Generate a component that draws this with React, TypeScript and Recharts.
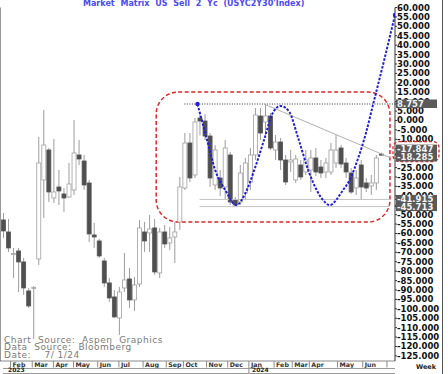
import React from "react";
import {
  ComposedChart,
  Bar,
  Line,
  XAxis,
  YAxis,
  ReferenceLine,
  ReferenceArea
} from "recharts";

// weekly candles, mid-Jan 2023 .. end of Jun 2024
const opens = [
  -52.81, -59.19, -70.87, -69.27, -75.11, -90.5, -88.91, -73.52, -31.58, -15.66,
  -41.14, -35.3, -39.01, -40.61, -36.89, -18.31, -21.5, -33.17, -60.78, -63.96,
  -74.58, -86.26, -93.69, -104.84, -88.91, -84.14, -95.28, -86.79, -59.19, -59.72,
  -57.06, -80.95, -59.19, -65.02, -61.84, -53.88, -35.83, -11.94, -28.93, 1.33,
  -0.27, -8.23, -34.24, -30.52, -35.3, -18.31, -42.2, -43.26, -38.48, -32.64,
  -18.31, 2.39, -0.8, 2.39, -15.66, -11.41, -20.97, -22.03, -31.58, -23.62,
  -27.34, -26.27, -19.91, -24.68, -27.34, -27.34, -22.56, -14.6, -22.56, -27.87,
  -35.83, -23.62, -33.17, -34.77, -33.17, -17.85
];
const highs = [
  -49.1, -52.28, -67.68, -67.68, -72.99, -88.91, -87.85, -8.76, 5.57, -14.6,
  -9.82, -26.27, -35.83, -22.56, 0.27, -10.35, -18.31, -31.58, -54.41, -62.9,
  -72.99, -83.61, -89.97, -88.38, -70.33, -78.3, -83.08, -52.81, -53.88, -50.16,
  -52.28, -57.06, -55.47, -56.53, -53.88, -29.99, -6.64, -6.64, 1.33, 2.92,
  3.45, -6.64, -13.0, -26.27, -10.35, -16.72, -40.61, -23.62, -19.91, -14.6,
  6.64, 6.64, 8.757, 3.98, -7.7, -9.29, -18.31, -15.66, -18.31, -20.97,
  -15.66, -15.66, -14.6, -20.97, -19.91, -11.94, -7.7, -13.0, -19.91, -25.21,
  -26.27, -20.97, -30.52, -28.93, -18.31, -17.0
];
const lows = [
  -62.37, -69.8, -83.61, -91.04, -92.63, -99.53, -116.0, -76.71, -51.75, -43.26,
  -43.79, -44.85, -48.57, -41.14, -39.54, -23.62, -36.89, -64.49, -67.68, -72.99,
  -88.38, -96.34, -104.84, -113.86, -91.04, -99.53, -101.12, -88.38, -69.8, -69.8,
  -82.01, -83.61, -67.68, -68.74, -75.64, -58.12, -36.89, -32.64, -30.52, -8.0,
  -10.35, -35.3, -36.89, -40.08, -42.2, -44.85, -45.71, -44.85, -42.2, -36.89,
  -20.97, -10.35, -7.7, -15.66, -20.97, -26.27, -34.24, -27.34, -33.17, -31.58,
  -28.93, -38.0, -29.46, -30.52, -30.52, -28.93, -25.21, -25.21, -30.52, -39.01,
  -39.54, -41.91, -37.95, -39.54, -36.89, -18.84
];
const closes = [
  -58.65, -67.68, -70.6, -75.11, -88.91, -98.47, -88.6, -22.56, -13.0, -37.95,
  -37.95, -37.42, -41.14, -33.71, -17.25, -20.44, -34.24, -60.25, -61.84, -71.93,
  -86.26, -94.22, -104.3, -91.04, -84.67, -95.28, -87.32, -57.06, -63.96, -57.59,
  -80.42, -59.19, -65.56, -62.37, -59.19, -35.3, -11.94, -30.52, -0.8, -0.27,
  -8.23, -30.52, -15.66, -35.83, -14.6, -43.26, -44.85, -27.87, -22.56, -18.31,
  2.92, -6.64, 2.39, -14.6, -11.41, -20.97, -32.64, -20.97, -20.44, -29.99,
  -20.97, -19.91, -27.34, -27.87, -22.56, -15.66, -15.66, -23.09, -27.34, -37.95,
  -30.52, -35.3, -35.83, -33.17, -19.91, -18.29
];

// hand drawn "W" projection (blue dotted)
const curveX = [38.5, 40.4, 42.0, 44.0, 46.2, 48.0, 50.0, 51.7, 53.4, 55.0, 56.7, 58.4, 60.7, 63.4, 64.7, 67.4, 68.7, 70.4, 71.9, 73.3, 75.5, 77.7];
const curveY = [8.757, -10.4, -26.3, -36.9, -44.9, -38.6, -24.5, -10.4, 3.8, 7.7, 4.7, -8.6, -28.0, -42.2, -44.9, -36.9, -31.6, -19.9, -7.0, 8.0, 31.5, 56.0];

const yTicks = [
  60, 55, 50, 45, 40, 35, 30, 25, 20, 15, 10, 5, 0, -5, -10, -15, -20, -25, -30,
  -35, -40, -45, -50, -55, -60, -65, -70, -75, -80, -85, -90, -95, -100, -105,
  -110, -115, -120, -125
];

const monthTicks = [1.4, 5.7, 9.9, 13.9, 18.7, 22.9, 27.7, 32.3, 35.7, 40.3, 44.5, 48.7, 53.7, 57.3, 60.7, 66.3, 71.3, 76.1];
const monthLabels = ["Feb", "Mar", "Apr", "May", "Jun", "Jul", "Aug", "Sep", "Oct", "Nov", "Dec", "Jan", "Feb", "Mar", "Apr", "May", "Jun", ""];

const topLevel = 8.757;
const lastLevels = [-17.847, -18.285];
const supportLevels = [-41.915, -45.713];
// highlighted values on the price scale, with a small vertical nudge
const boxLevels = [topLevel, lastLevels[0], lastLevels[1], supportLevels[0], supportLevels[1]];
const boxNudge = [0, -5, 2.5, 0, 0.5];

const candles = opens.map((o, i) => ({
  i,
  o,
  h: highs[i],
  l: lows[i],
  c: closes[i]
}));
const curve = curveX.map((x, k) => ({ i: x, v: curveY[k] }));

const AXIS_FONT = "DejaVu Sans";
const BODY_W = 4;

function Candle(props: any) {
  const { x, y, width, height, payload } = props;
  if (x == null || !payload) return <g />;
  const { o, h, l, c } = payload;
  const top = Math.min(y, y + height);
  const hh = Math.abs(height);
  const span = h - l || 1;
  const py = (v: number) => top + ((h - v) / span) * hh;
  const cx = x + (width || 0) / 2;
  const up = c >= o;
  const bTop = py(Math.max(o, c));
  const bH = Math.max(py(Math.min(o, c)) - bTop, 1);
  return (
    <g>
      <line x1={cx} x2={cx} y1={py(h)} y2={py(l)} stroke="#9c9c9c" strokeWidth={1} />
      <rect
        x={cx - BODY_W / 2}
        y={bTop}
        width={BODY_W}
        height={bH}
        fill={up ? "#ffffff" : "#4f4f4f"}
        stroke={up ? "#a0a0a0" : "#555"}
        strokeWidth={0.8}
      />
    </g>
  );
}

const PriceTick = (props: any) => {
  const { x, y, payload } = props;
  const v = payload.value;
  const b = boxLevels.indexOf(v);
  if (b >= 0) {
    const yy = y + boxNudge[b];
    return (
      <g>
        {b === 1 && (
          <rect x={x - 4} y={yy - 7.5} width={46} height={20} rx={6} fill="none" stroke="#e02424" strokeWidth={1.3} strokeDasharray="3 2" />
        )}
        <rect x={x - 1} y={yy - 4.5} width={41} height={8.5} fill="#5a5a5a" />
        <text x={x} y={yy + 3} fill="#f4f4f4" fontSize={8.5} fontWeight="bold" fontFamily={AXIS_FONT}>
          {v.toFixed(3)}
        </text>
      </g>
    );
  }
  return (
    <text x={x} y={y + 3} fill="#111" fontSize={8.5} fontWeight="bold" fontFamily={AXIS_FONT}>
      {v.toFixed(3)}
    </text>
  );
};

const MonthTick = (props: any) => {
  const { x, y, payload } = props;
  const k = monthTicks.indexOf(payload.value);
  const label = monthLabels[k] ?? "";
  const tall = label === "Jan";
  return (
    <g>
      <line x1={x} x2={x} y1={y} y2={tall ? y + 12 : y + 6.5} stroke="#8a8a8a" />
      <text x={x + 2} y={y + 5.6} fontSize={6.3} fontWeight="bold" fontFamily={AXIS_FONT} fill="#333">
        {label}
      </text>
    </g>
  );
};

const roundRect = (props: any) => {
  const { x, y, width, height } = props;
  return (
    <rect x={x} y={y} width={width} height={height} rx={22} fill="none" stroke="#e02424" strokeWidth={1.5} strokeDasharray="4 2.5" />
  );
};

const endDot = (props: any) => {
  const { cx, cy, index } = props;
  if (index === 0 || index === curve.length - 1)
    return <circle key={index} cx={cx} cy={cy} r={2.2} fill="#1f1fd6" />;
  return <g key={index} />;
};

export default function App() {
  return (
    <div style={{ position: "absolute", left: 0, top: 0, width: 448, height: 374, background: "#fff" }}>
      <ComposedChart
        width={448}
        height={374}
        data={candles}
        margin={{ top: 7.5, right: 0, bottom: 1, left: 0 }}
      >
        <XAxis
          dataKey="i"
          type="number"
          domain={[-0.7, 77.7]}
          allowDataOverflow
          ticks={monthTicks}
          interval={0}
          tick={<MonthTick />}
          tickLine={false}
          tickSize={0}
          tickMargin={0}
          height={12}
          axisLine={{ stroke: "#8a8a8a" }}
        />
        <YAxis
          yAxisId="l"
          orientation="left"
          width={3}
          domain={[-127.7, 60]}
          ticks={yTicks}
          interval={0}
          tick={false}
          tickSize={2}
          mirror
          axisLine={{ stroke: "#333" }}
          tickLine={{ stroke: "#555" }}
        />
        <YAxis
          yAxisId="r"
          orientation="right"
          width={53}
          domain={[-127.7, 60]}
          allowDataOverflow
          ticks={[...yTicks, ...boxLevels]}
          interval={0}
          tickSize={2}
          tickMargin={0}
          tick={<PriceTick />}
          axisLine={{ stroke: "#333" }}
          tickLine={{ stroke: "#333" }}
        />

        <ReferenceArea yAxisId="r" x1={30.3} x2={76.7} y1={15.1} y2={-53.9} shape={roundRect} ifOverflow="visible" />

        <ReferenceLine
          yAxisId="r"
          segment={[{ x: 35.9, y: topLevel }, { x: 77.7, y: topLevel }]}
          stroke="#333"
          strokeDasharray="1 1.5"
        />
        {supportLevels.map((v) => (
          <ReferenceLine
            key={v}
            yAxisId="r"
            segment={[{ x: 38.9, y: v }, { x: 76.6, y: v }]}
            stroke="#c4c4c4"
          />
        ))}
        <ReferenceLine
          yAxisId="r"
          segment={[{ x: 51.7, y: topLevel }, { x: 76.9, y: -19.9 }]}
          stroke="#b0b0b0"
        />

        <Bar yAxisId="r" dataKey={(d: any) => [d.l, d.h]} barSize={4} shape={<Candle />} isAnimationActive={false} />

        <Line
          yAxisId="r"
          data={curve}
          dataKey="v"
          type="monotone"
          stroke="#1f1fd6"
          strokeWidth={2}
          strokeDasharray="2.5 1.5"
          dot={endDot}
          activeDot={false}
          isAnimationActive={false}
        />
      </ComposedChart>

      <div
        style={{
          position: "absolute",
          left: 83,
          top: -1,
          fontFamily: AXIS_FONT,
          fontWeight: "bold",
          fontSize: 8,
          lineHeight: "9px",
          color: "#4b4bf2",
          wordSpacing: 3,
          whiteSpace: "pre"
        }}
      >
        Market Matrix US Sell 2 Yc (USYC2Y30'Index)
      </div>

      <div
        style={{
          position: "absolute",
          left: 4,
          top: 336.5,
          fontFamily: AXIS_FONT,
          fontSize: 9,
          lineHeight: "7.8px",
          letterSpacing: 0.5,
          color: "#7a7a7a",
          whiteSpace: "pre"
        }}
      >
        {"Chart  Source:  Aspen  Graphics\nData  Source:  Bloomberg\nDate:    7/ 1/24"}
      </div>

      <div style={{ position: "absolute", left: 3, top: 367.5, width: 392, height: 1, background: "#9a9a9a" }} />
      <div style={{ position: "absolute", left: 3, top: 372.5, width: 392, height: 1, background: "#9a9a9a" }} />
      <div style={{ position: "absolute", left: 442, top: 0, width: 1, height: 374, background: "#555" }} />
      {[
        { t: "2023", x: 8 },
        { t: "2024", x: 252 }
      ].map((yr) => (
        <div
          key={yr.t}
          style={{
            position: "absolute",
            left: yr.x,
            top: 367,
            fontFamily: AXIS_FONT,
            fontWeight: "bold",
            fontSize: 6,
            lineHeight: "6px",
            color: "#222"
          }}
        >
          {yr.t}
        </div>
      ))}
      <div
        style={{
          position: "absolute",
          left: 416,
          top: 364,
          fontFamily: AXIS_FONT,
          fontWeight: "bold",
          fontSize: 6.5,
          lineHeight: "7px",
          color: "#222"
        }}
      >
        Week
      </div>
    </div>
  );
}
